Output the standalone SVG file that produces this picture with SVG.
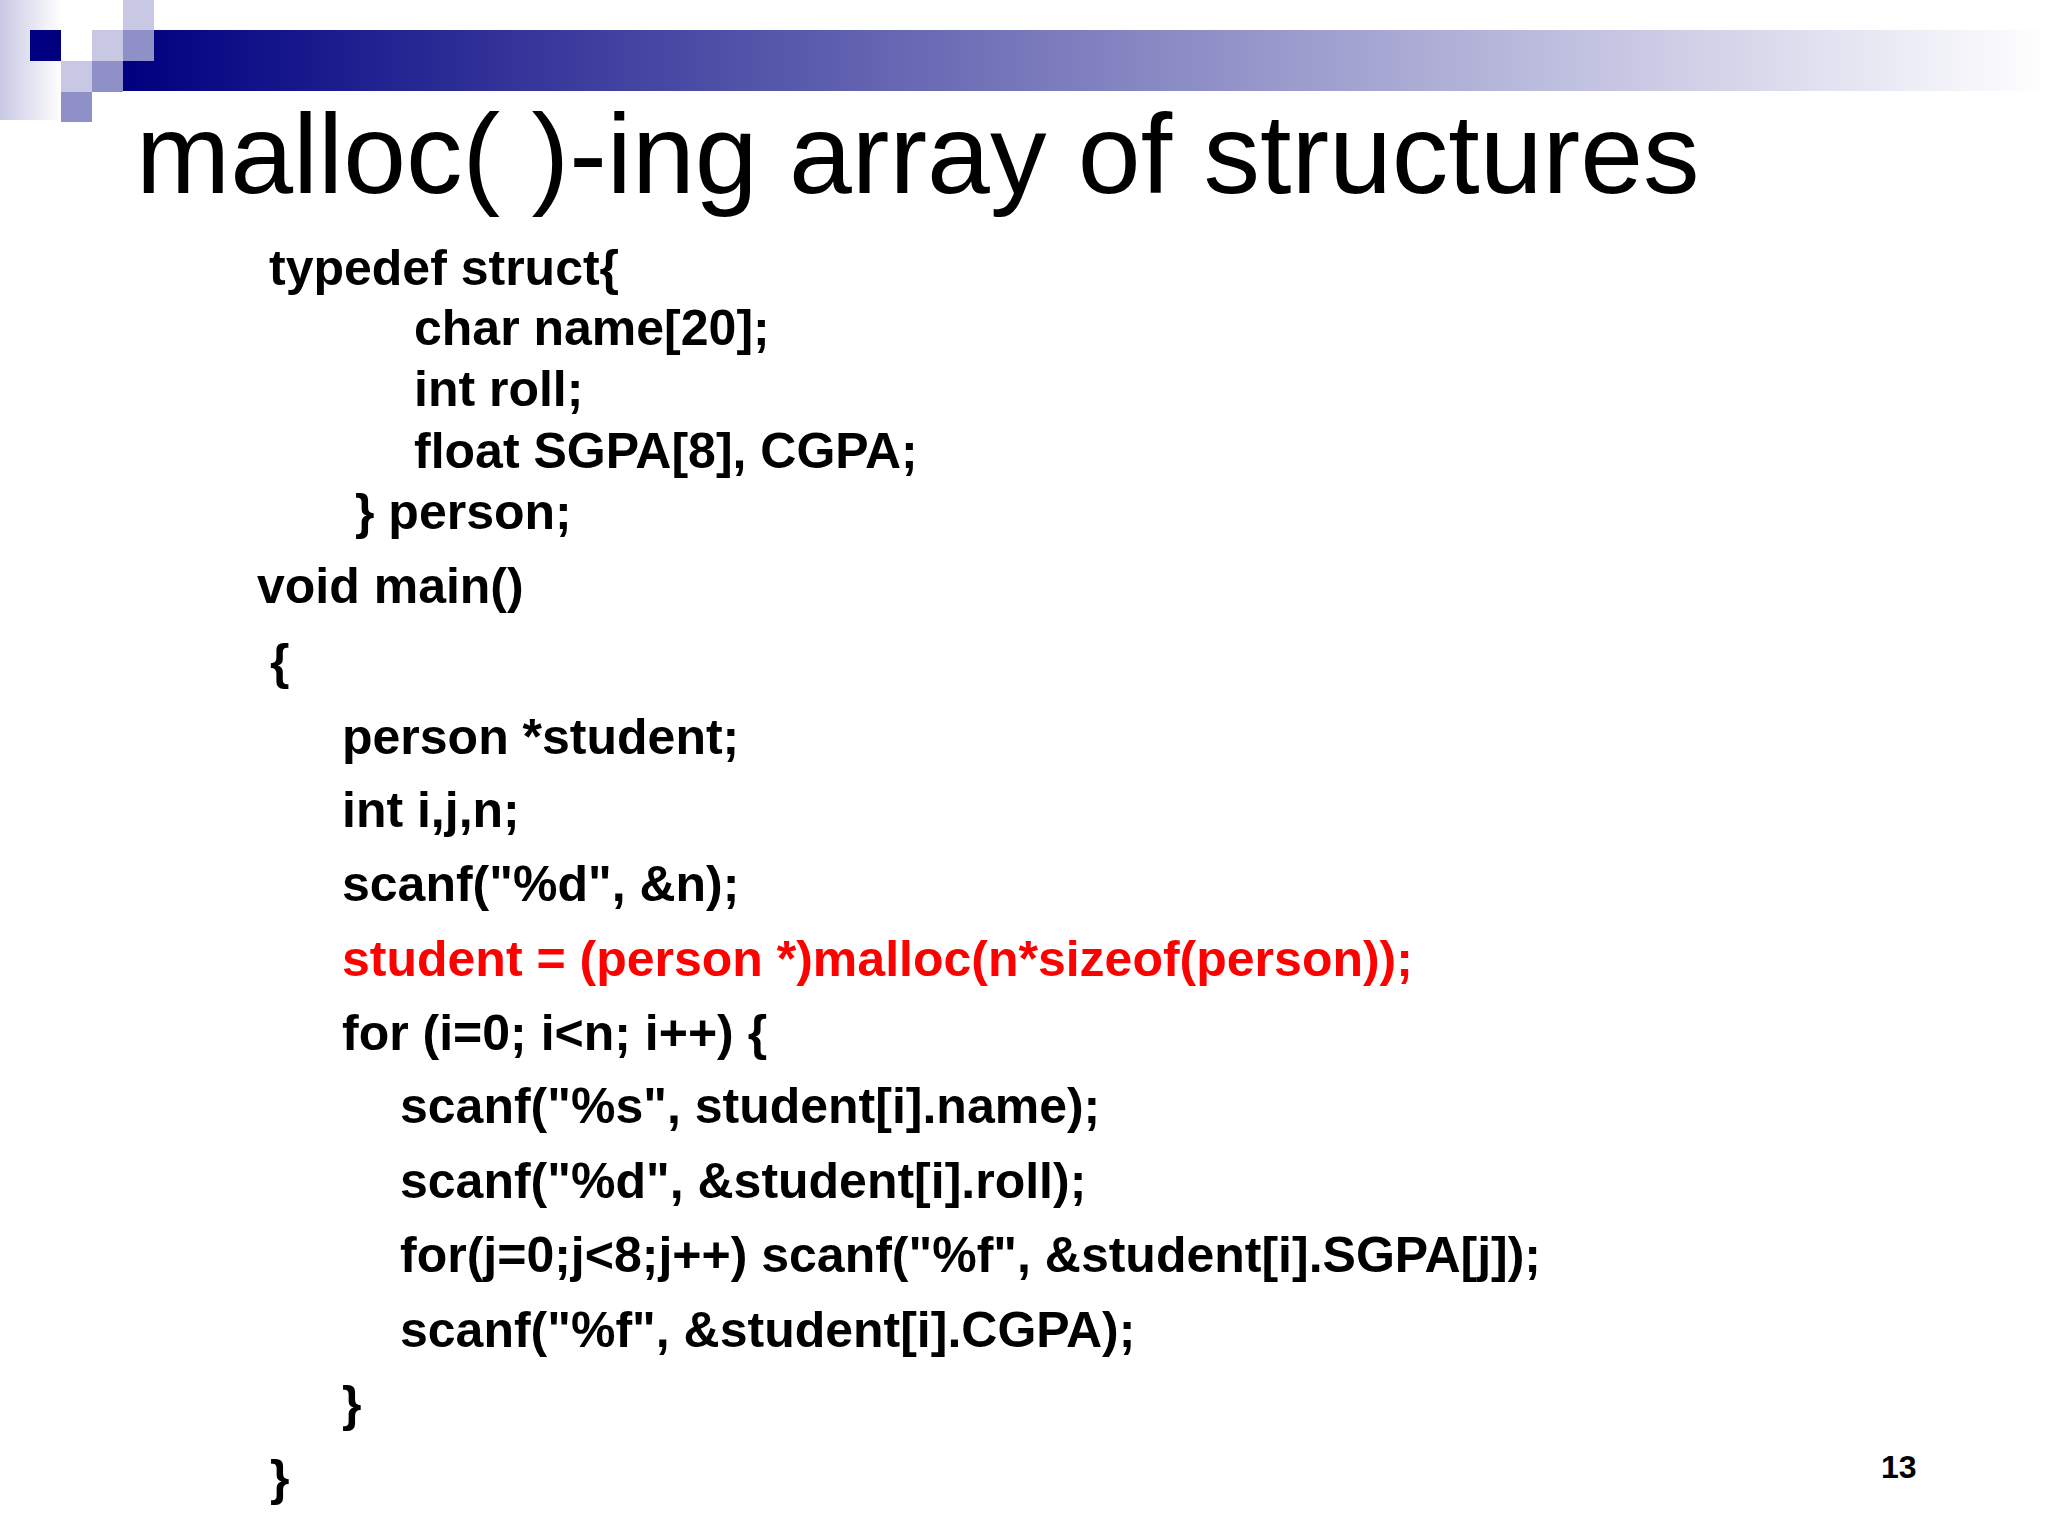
<svg xmlns="http://www.w3.org/2000/svg" width="2048" height="1536" viewBox="0 0 2048 1536">
<defs>
<linearGradient id="bar" x1="0" x2="1" y1="0" y2="0"><stop offset="0" stop-color="#000080"/><stop offset="1" stop-color="#ffffff"/></linearGradient>
<linearGradient id="fade" x1="0" x2="1" y1="0" y2="0"><stop offset="0" stop-color="#c8c8e4"/><stop offset="1" stop-color="#ffffff"/></linearGradient>
</defs>
<style>
.c{font-family:"Liberation Sans",Arial,sans-serif;font-weight:bold;font-size:50px;fill:#000}
.r{fill:#ff0000}
</style>
<rect width="2048" height="1536" fill="#fff"/>
<g id="logo">
<rect x="0" y="0" width="62" height="120" fill="url(#fade)"/>
<rect x="123" y="30" width="1925" height="61" fill="url(#bar)"/>
<rect x="30" y="30" width="31" height="31" fill="#000080"/>
<rect x="92" y="30" width="31" height="31" fill="#c8c8e4"/>
<rect x="123" y="0" width="31" height="30" fill="#c8c8e4"/>
<rect x="123" y="30" width="31" height="31" fill="#9090c8"/>
<rect x="61" y="61" width="31" height="31" fill="#c8c8e4"/>
<rect x="92" y="61" width="31" height="31" fill="#9090c8"/>
<rect x="61" y="92" width="31" height="30" fill="#9090c8"/>
</g>
<text id="title" x="136" y="193" font-family="Liberation Sans,Arial,sans-serif" font-size="113">malloc( )-ing array of structures</text>
<g id="code" xml:space="preserve">
<text class="c" x="269" y="285">typedef  struct{</text>
<text class="c" x="414" y="345">char name[20];</text>
<text class="c" x="414" y="406">int roll;</text>
<text class="c" x="414" y="468">float SGPA[8], CGPA;</text>
<text class="c" x="355" y="529">} person;</text>
<text class="c" x="257" y="603">void main()</text>
<text class="c" x="270" y="679">{</text>
<text class="c" x="342" y="754">person *student;</text>
<text class="c" x="342" y="827">int i,j,n;</text>
<text class="c" x="342" y="901">scanf("%d", &amp;n);</text>
<text class="c r" x="342" y="976">student = (person *)malloc(n*sizeof(person));</text>
<text class="c" x="342" y="1050">for (i=0; i&lt;n; i++) {</text>
<text class="c" x="400" y="1123">scanf("%s", student[i].name);</text>
<text class="c" x="400" y="1198">scanf("%d", &amp;student[i].roll);</text>
<text class="c" x="400" y="1272">for(j=0;j&lt;8;j++) scanf("%f", &amp;student[i].SGPA[j]);</text>
<text class="c" x="400" y="1347">scanf("%f", &amp;student[i].CGPA);</text>
<text class="c" x="342" y="1421">}</text>
<text class="c" x="270" y="1495">}</text>
</g>
<text id="page" x="1881" y="1478" font-family="Liberation Sans,Arial,sans-serif" font-weight="bold" font-size="32">13</text>
</svg>
